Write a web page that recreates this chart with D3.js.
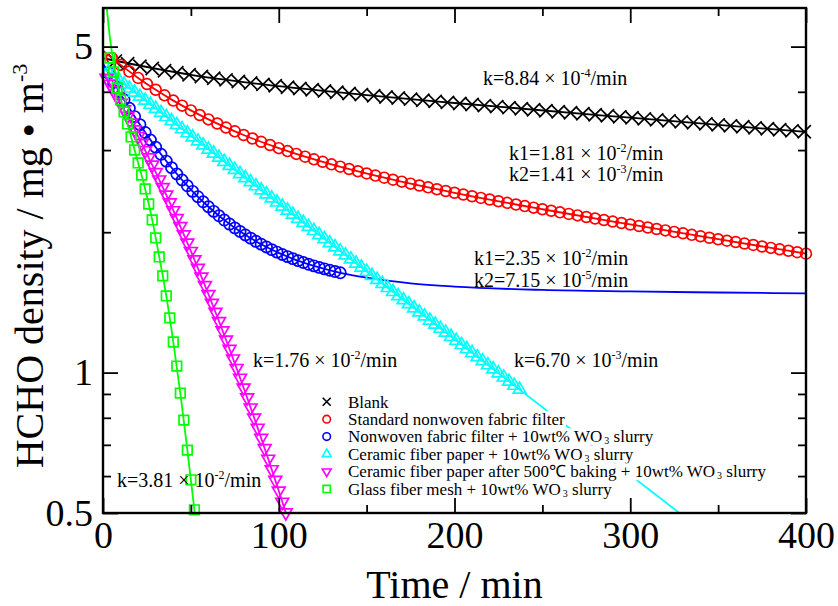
<!DOCTYPE html>
<html>
<head>
<meta charset="UTF-8">
<title>HCHO density</title>
<script src="https://d3js.org/d3.v7.min.js"></script>
<style>
  body { margin: 0; background: #fff; }
  text { font-family: "Liberation Serif", "Times New Roman", serif; fill: #000; }
</style>
</head>
<body>
<div id="chart"></div>
<script>
// ---- values ----
var blankTime = [7,14,21,28,35,42,49,56,63,70,77,84,91,98,105,112,119,126,133,140,147,154,161,168,175,182,189,196,203,210,217,224,231,238,245,252,259,266,273,280,287,294,301,308,315,322,329,336,343,350,357,364,371,378,385,392,399];
var blankValue = [4.655,4.594,4.538,4.487,4.439,4.394,4.353,4.314,4.277,4.243,4.210,4.178,4.149,4.120,4.092,4.066,4.040,4.015,3.991,3.968,3.945,3.922,3.900,3.879,3.858,3.837,3.816,3.796,3.776,3.757,3.737,3.718,3.699,3.680,3.662,3.643,3.625,3.607,3.589,3.571,3.553,3.535,3.518,3.500,3.483,3.466,3.449,3.432,3.415,3.398,3.381,3.365,3.348,3.332,3.316,3.299,3.283];
var blankFitTime = [0,50,100,150,200,300,400];
var blankFitValue = [4.721,4.348,4.112,3.935,3.785,3.520,3.281];

var redTime = [5,10,15,20,25,30,35,40,45,50,55,60,65,70,75,80,85,90,95,100,105,110,115,120,125,130,135,140,145,150,155,160,165,170,175,180,185,190,195,200,205,210,215,220,225,230,235,240,245,250,255,260,265,270,275,280,285,290,295,300,305,310,315,320,325,330,335,340,345,350,355,360,365,370,375,380,385,390,395,400];
var redValue = [4.727,4.568,4.420,4.284,4.157,4.040,3.931,3.830,3.736,3.649,3.567,3.491,3.420,3.353,3.291,3.232,3.177,3.125,3.076,3.029,2.985,2.944,2.904,2.866,2.831,2.796,2.764,2.732,2.702,2.673,2.645,2.618,2.592,2.567,2.542,2.519,2.496,2.473,2.451,2.430,2.409,2.389,2.369,2.350,2.330,2.312,2.293,2.275,2.258,2.240,2.223,2.206,2.189,2.173,2.156,2.140,2.124,2.108,2.093,2.078,2.062,2.047,2.032,2.018,2.003,1.989,1.974,1.960,1.946,1.932,1.918,1.905,1.891,1.878,1.864,1.851,1.838,1.825,1.812,1.799];
var redFitTime = [0,10,20,30,40,60,80,100,130,160,200,250,300,350,400];
var redFitValue = [4.900,4.568,4.284,4.040,3.830,3.491,3.232,3.029,2.796,2.618,2.430,2.240,2.078,1.932,1.799];

var blueTime = [3,6,9,12,15,18,21,24,27,30,33,36,39,42,45,48,51,54,57,60,63,66,69,72,75,78,81,84,87,90,93,96,99,102,105,108,111,114,117,120,123,126,129,132,135];
var blueValue = [4.393,4.197,4.015,3.845,3.687,3.539,3.401,3.273,3.153,3.042,2.938,2.841,2.751,2.666,2.588,2.515,2.447,2.383,2.324,2.268,2.217,2.169,2.124,2.082,2.043,2.007,1.973,1.942,1.912,1.885,1.859,1.835,1.813,1.792,1.773,1.755,1.738,1.722,1.707,1.694,1.681,1.669,1.658,1.647,1.637];
var blueFitTime = [0,10,20,30,40,50,60,70,80,90,100,110,120,135,150,175,200,250,300,350,400];
var blueFitValue = [4.603,3.957,3.445,3.042,2.722,2.469,2.268,2.110,1.984,1.885,1.806,1.743,1.694,1.637,1.598,1.554,1.529,1.504,1.493,1.485,1.479];

var cyanTime = [3,6,9,12,15,18,21,24,27,30,33,36,39,42,45,48,51,54,57,60,63,66,69,72,75,78,81,84,87,90,93,96,99,102,105,108,111,114,117,120,123,126,129,132,135,138,141,144,147,150,153,156,159,162,165,168,171,174,177,180,183,186,189,192,195,198,201,204,207,210,213,216,219,222,225,228,231,234,237];
var cyanValue = [4.411,4.323,4.237,4.152,4.070,3.989,3.909,3.832,3.755,3.681,3.607,3.536,3.465,3.396,3.329,3.263,3.198,3.134,3.072,3.010,2.951,2.892,2.834,2.778,2.723,2.668,2.615,2.563,2.512,2.462,2.413,2.365,2.318,2.272,2.227,2.183,2.139,2.097,2.055,2.014,1.974,1.935,1.896,1.858,1.821,1.785,1.750,1.715,1.681,1.647,1.614,1.582,1.551,1.520,1.490,1.460,1.431,1.403,1.375,1.347,1.321,1.294,1.269,1.243,1.219,1.194,1.171,1.147,1.124,1.102,1.080,1.059,1.038,1.017,0.997,0.977,0.957,0.938,0.920];
var cyanFitTime = [0,335];
var cyanFitValue = [4.500,0.477];

var magentaTime = [2,4,6,8,10,12,14,16,18,20,22,24,26,28,30,32,34,36,38,40,42,44,46,48,50,52,54,56,58,60,62,64,66,68,70,72,74,76,78,80,82,84,86,88,90,92,94,96,98,100,102,104];
var magentaValue = [4.282,4.155,4.030,3.906,3.785,3.666,3.549,3.433,3.320,3.210,3.101,2.995,2.891,2.789,2.689,2.592,2.497,2.405,2.314,2.227,2.141,2.058,1.977,1.898,1.821,1.747,1.675,1.605,1.538,1.472,1.409,1.348,1.288,1.231,1.176,1.123,1.071,1.022,0.974,0.928,0.884,0.841,0.800,0.761,0.724,0.688,0.653,0.620,0.588,0.558,0.528,0.501];
var magentaFitTime = [0,20,40,60,80,100,106];
var magentaFitValue = [4.41,3.21,2.227,1.472,0.928,0.558,0.474];

var greenTime = [4,6,8,10,12,14,16,18,20,22,24,26,28,30,32,34,36,38,40,42,44,46,48,50,52];
var greenValue = [4.727,4.411,4.076,3.842,3.622,3.413,3.201,3.001,2.815,2.653,2.476,2.299,2.125,1.944,1.770,1.612,1.460,1.310,1.163,1.033,0.904,0.791,0.682,0.589,0.508];
var greenFitTime = [1.5,4,8,12,16,20,24,28,32,36,40,44,48,52,54];
var greenFitValue = [6.4,5.2,4.2,3.622,3.201,2.815,2.476,2.125,1.770,1.460,1.163,0.904,0.682,0.508,0.44];

var xMajorTicks = [0,100,200,300,400];
var xMinorTicks = [50,150,250,350];
var yMajorTicks = [0.5,1,5];
var yMinorTicks = [0.6,0.7,0.8,0.9,2,3,4];

var legendLabels = [
    { pre: "Blank" },
    { pre: "Standard nonwoven fabric filter" },
    { pre: "Nonwoven fabric filter + 10wt% WO", sub: "3", post: " slurry" },
    { pre: "Ceramic fiber paper + 10wt% WO", sub: "3", post: " slurry" },
    { pre: "Ceramic fiber paper after 500\u2103 baking + 10wt% WO", sub: "3", post: " slurry" },
    { pre: "Glass fiber mesh + 10wt% WO", sub: "3", post: " slurry" }
];

var annotations = [
    { x: 483, y: 85, pre: "k=8.84 \u00d7 10", sup: "-4", post: "/min" },
    { x: 509, y: 160, pre: "k1=1.81 \u00d7 10", sup: "-2", post: "/min" },
    { x: 509, y: 181, pre: "k2=1.41 \u00d7 10", sup: "-3", post: "/min" },
    { x: 474, y: 265, pre: "k1=2.35 \u00d7 10", sup: "-2", post: "/min" },
    { x: 474, y: 287, pre: "k2=7.15 \u00d7 10", sup: "-5", post: "/min" },
    { x: 253, y: 367, pre: "k=1.76 \u00d7 10", sup: "-2", post: "/min" },
    { x: 514, y: 367, pre: "k=6.70 \u00d7 10", sup: "-3", post: "/min" },
    { x: 117, y: 487, pre: "k=3.81 \u00d7 10", sup: "-2", post: "/min" }
];

function zip(t, v) {
    return t.map(function (d, i) { return { t: d, v: v[i] }; });
}

var series = [
    { pts: zip(blankTime, blankValue), fit: zip(blankFitTime, blankFitValue), color: "#000000", shape: "times", size: 6.6 },
    { pts: zip(redTime, redValue), fit: zip(redFitTime, redFitValue), color: "#ff0000", shape: "circle", size: 5.4 },
    { pts: zip(blueTime, blueValue), fit: zip(blueFitTime, blueFitValue), color: "#0000ff", shape: "circle", size: 5.6 },
    { pts: zip(cyanTime, cyanValue), fit: zip(cyanFitTime, cyanFitValue), color: "#00ffff", shape: "triUp", size: 6.4 },
    { pts: zip(magentaTime, magentaValue), fit: zip(magentaFitTime, magentaFitValue), color: "#ff00ff", shape: "triDown", size: 6.4 },
    { pts: zip(greenTime, greenValue), fit: zip(greenFitTime, greenFitValue), color: "#00ff00", shape: "square", size: 4.8 }
];

// ---- layout ----
var margin = { top: 8, left: 103 };
var width = 703, height = 505;

var svg = d3.select("#chart").append("svg")
    .attr("width", 838).attr("height", 606);

var g = svg.append("g")
    .attr("transform", "translate(" + margin.left + "," + margin.top + ")");

var x = d3.scaleLinear().domain([0, 400]).range([0, width]);
var y = d3.scaleLog().domain([0.5, 6.05]).range([height, 0]);

g.append("clipPath").attr("id", "plotClip")
    .append("rect").attr("width", width).attr("height", height);

function markerPath(shape, s) {
    if (shape === "times") return "M" + (-s) + "," + (-s) + "L" + s + "," + s + "M" + (-s) + "," + s + "L" + s + "," + (-s);
    if (shape === "circle") return "M" + s + ",0A" + s + "," + s + " 0 1,1 " + (-s) + ",0A" + s + "," + s + " 0 1,1 " + s + ",0Z";
    if (shape === "square") return "M" + (-s) + "," + (-s) + "h" + (2 * s) + "v" + (2 * s) + "h" + (-2 * s) + "Z";
    var a = s * 1.155, b = s * 0.577;
    if (shape === "triUp") return "M0," + (-a) + "L" + s + "," + b + "L" + (-s) + "," + b + "Z";
    return "M0," + a + "L" + s + "," + (-b) + "L" + (-s) + "," + (-b) + "Z";
}

var line = d3.line()
    .x(function (d) { return x(d.t); })
    .y(function (d) { return y(d.v); })
    .curve(d3.curveMonotoneX);

// ---- series ----
series.forEach(function (s) {
    g.append("path")
        .datum(s.fit)
        .attr("clip-path", "url(#plotClip)")
        .attr("fill", "none")
        .attr("stroke", s.color)
        .attr("stroke-width", 1.8)
        .attr("d", line);

    g.append("g").selectAll("path")
        .data(s.pts)
        .enter()
        .append("path")
        .attr("transform", function (d) { return "translate(" + x(d.t) + "," + y(d.v) + ")"; })
        .attr("d", markerPath(s.shape, s.size))
        .attr("fill", "none")
        .attr("stroke", s.color)
        .attr("stroke-width", 1.7);
});

// ---- axes ----
function styleAxis(sel) {
    sel.select(".domain").remove();
    sel.selectAll(".tick line").attr("stroke", "#000").attr("stroke-width", 1.8);
    sel.selectAll(".tick text").attr("font-family", "Liberation Serif, Times New Roman, serif").attr("font-size", 38).attr("fill", "#000");
}

g.append("g").attr("transform", "translate(0," + height + ")")
    .call(d3.axisBottom(x).tickValues(xMajorTicks).tickSize(-15).tickPadding(8).tickFormat(function (d) { return d; }))
    .call(styleAxis);
g.append("g").attr("transform", "translate(0," + height + ")")
    .call(d3.axisBottom(x).tickValues(xMinorTicks).tickSize(-8).tickFormat(""))
    .call(styleAxis);
g.append("g")
    .call(d3.axisTop(x).tickValues(xMajorTicks).tickSize(-15).tickFormat(""))
    .call(styleAxis);
g.append("g")
    .call(d3.axisTop(x).tickValues(xMinorTicks).tickSize(-8).tickFormat(""))
    .call(styleAxis);
g.append("g")
    .call(d3.axisLeft(y).tickValues(yMajorTicks).tickSize(-15).tickPadding(10).tickFormat(function (d) { return d; }))
    .call(styleAxis);
g.append("g")
    .call(d3.axisLeft(y).tickValues(yMinorTicks).tickSize(-8).tickFormat(""))
    .call(styleAxis);
g.append("g").attr("transform", "translate(" + width + ",0)")
    .call(d3.axisRight(y).tickValues(yMajorTicks).tickSize(-15).tickFormat(""))
    .call(styleAxis);
g.append("g").attr("transform", "translate(" + width + ",0)")
    .call(d3.axisRight(y).tickValues(yMinorTicks).tickSize(-8).tickFormat(""))
    .call(styleAxis);

g.append("rect")
    .attr("width", width).attr("height", height)
    .attr("fill", "none").attr("stroke", "#000").attr("stroke-width", 2.4);

// axis titles
svg.append("text")
    .attr("x", margin.left + width / 2)
    .attr("y", 598)
    .attr("text-anchor", "middle")
    .attr("font-size", 40)
    .text("Time / min");

var yTitle = svg.append("text")
    .attr("transform", "translate(43,266) rotate(-90)")
    .attr("text-anchor", "middle")
    .attr("font-size", 40);
yTitle.append("tspan").text("HCHO density / mg \u2022 m");
yTitle.append("tspan").attr("font-size", 22).attr("dy", -16).text("-3");

// ---- rate annotations ----
annotations.forEach(function (a) {
    var t = svg.append("text")
        .attr("x", a.x).attr("y", a.y)
        .attr("font-size", 20);
    t.append("tspan").text(a.pre);
    t.append("tspan").attr("font-size", 12).attr("dy", -8).text(a.sup);
    t.append("tspan").attr("dy", 8).text(a.post);
});

// ---- legend ----
var legend = svg.append("g");
legendLabels.forEach(function (l, i) {
    var cy = 401.7 + i * 17.45;
    var s = series[i];
    var row = legend.append("g");
    var bg = row.append("rect").attr("fill", "#fff");
    var t = row.append("text")
        .attr("x", 348).attr("y", cy + 5.8)
        .attr("font-size", 17);
    t.append("tspan").text(l.pre);
    if (l.sub) {
        t.append("tspan").attr("font-size", 10).attr("dx", 2).attr("dy", 2).text(l.sub);
        t.append("tspan").attr("dy", -2).text(l.post);
    }
    var bb = t.node().getBBox();
    bg.attr("x", bb.x - 1).attr("y", bb.y + 1).attr("width", bb.width + 2).attr("height", bb.height - 2);

    row.append("path")
        .attr("transform", "translate(326.7," + cy + ")")
        .attr("d", markerPath(s.shape, s.shape === "times" ? 4 : (s.shape === "square" ? 3.6 : (s.shape === "circle" ? 3.8 : 4.4))))
        .attr("fill", "none")
        .attr("stroke", s.color)
        .attr("stroke-width", 1.6);
});
</script>
</body>
</html>
